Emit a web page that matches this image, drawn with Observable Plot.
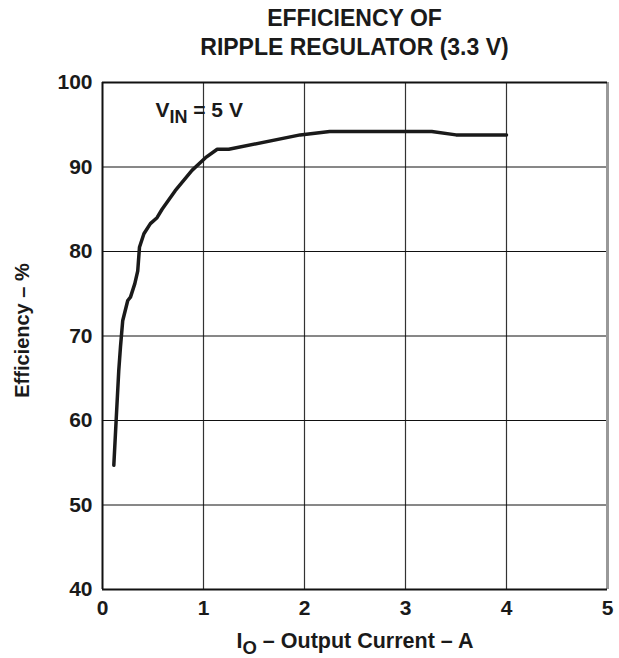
<!DOCTYPE html>
<html>
<head>
<meta charset="utf-8">
<script src="https://cdn.jsdelivr.net/npm/d3@7"></script>
<script src="https://cdn.jsdelivr.net/npm/@observablehq/plot@0.6"></script>
<style>
  body { margin: 0; background: #fff; font-family: Arial, "Liberation Sans", Helvetica, sans-serif; }
  #title { position: relative; width: 619px; height: 70px; }
  #title div { position: absolute; left: 102px; width: 505px; text-align: center; font-weight: bold; font-size: 23px; color: #1a1a1a; line-height: 23px; white-space: nowrap; }
</style>
</head>
<body>
<div id="title"><div style="top:7px">EFFICIENCY OF</div><div style="top:36px">RIPPLE REGULATOR (3.3 V)</div></div>
<div id="chart"></div>
<script>
const current = [0.112,0.135,0.161,0.178,0.20,0.25,0.277,0.32,0.349,0.366,0.41,0.474,0.54,0.59,0.72,0.886,1.02,1.136,1.25,1.957,2.25,3.26,3.5,4.0];
const efficiency = [54.7,60,65.9,68.7,71.8,74.2,74.6,76.2,77.7,80.5,82.1,83.3,84.0,85.0,87.2,89.6,91.1,92.1,92.1,93.8,94.2,94.2,93.8,93.8];
const xTicks = [0,1,2,3,4,5];
const yTicks = [40,50,60,70,80,90,100];
const xLabel = "IO – Output Current – A";
const yLabel = "Efficiency – %";
const note = {x: 0.524, y: 95.9, text: "VIN = 5 V"};

const data = current.map((c, i) => ({c, e: efficiency[i]}));

const plot = Plot.plot({
  width: 619,
  height: 588,
  marginLeft: 102,
  marginRight: 12,
  marginTop: 12,
  marginBottom: 69,
  style: {fontFamily: "Arial, 'Liberation Sans', Helvetica, sans-serif", fontSize: "21px", fontWeight: "bold", color: "#1a1a1a", background: "#fff"},
  x: {domain: [0, 5]},
  y: {domain: [40, 100]},
  marks: [
    Plot.ruleX(xTicks.slice(1, -1), {stroke: "#333", strokeWidth: 1.2}),
    Plot.ruleY(yTicks.slice(1, -1), {stroke: "#111", strokeWidth: 1}),
    Plot.ruleX([5], {stroke: "#999", strokeWidth: 3}),
    Plot.ruleY([100], {stroke: "#111", strokeWidth: 2}),
    Plot.ruleX([0], {stroke: "#111", strokeWidth: 2}),
    Plot.ruleY([40], {stroke: "#111", strokeWidth: 2}),
    Plot.axisX({ticks: xTicks, tickSize: 0, tickPadding: 11, label: null, tickFormat: d => String(d)}),
    Plot.axisY({ticks: yTicks, tickSize: 0, tickPadding: 10, label: null, tickFormat: d => String(d)}),
    Plot.line(data, {x: "c", y: "e", stroke: "#1a1a1a", strokeWidth: 3.5, strokeLinejoin: "round", strokeLinecap: "round"}),
    Plot.text([note], {x: "x", y: "y", text: "text", textAnchor: "start", lineAnchor: "bottom", fontSize: 21, fontWeight: "bold", fill: "#1a1a1a"}),
    Plot.text([xLabel], {frameAnchor: "bottom", dy: 52, text: d => d, lineAnchor: "middle", fontSize: 21.5, fontWeight: "bold", fill: "#1a1a1a"}),
    Plot.text([yLabel], {frameAnchor: "left", dx: -80, dy: -5.5, rotate: -90, text: d => d, textAnchor: "middle", lineAnchor: "middle", fontSize: 20, fontWeight: "bold", fill: "#1a1a1a"})
  ]
});

document.getElementById("chart").appendChild(plot);

// subscripts
d3.select(plot).selectAll("text").each(function() {
  const t = this.textContent;
  if (t === note.text) {
    this.textContent = "";
    const s = d3.select(this);
    s.append("tspan").text("V");
    s.append("tspan").attr("dy", 6).attr("font-size", "18px").text("IN");
    s.append("tspan").attr("dy", -6).text(" = 5 V");
  } else if (t === xLabel) {
    this.textContent = "";
    const s = d3.select(this);
    s.append("tspan").text("I");
    s.append("tspan").attr("dy", 6).attr("font-size", "18.5px").text("O");
    s.append("tspan").attr("dy", -6).text(" – Output Current – A");
  }
});
</script>
</body>
</html>
